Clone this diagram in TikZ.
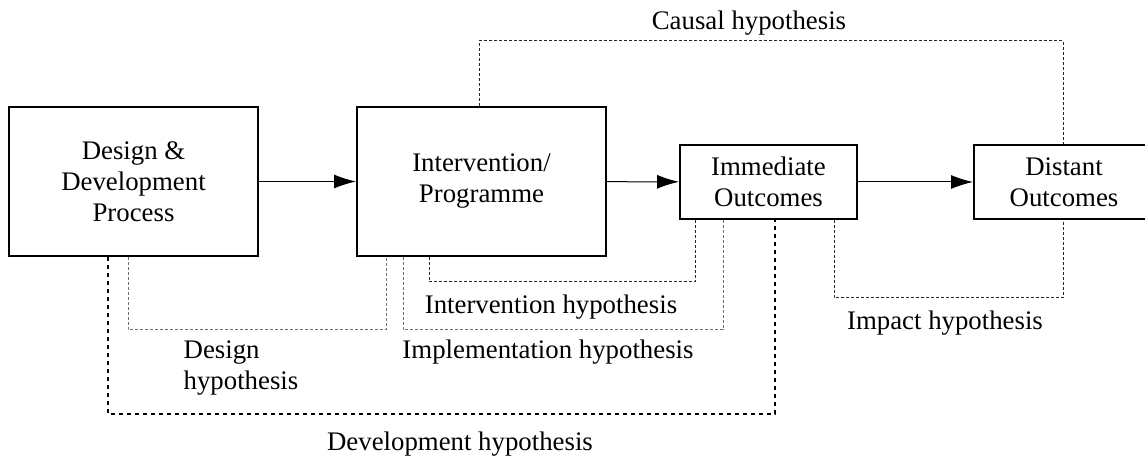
\documentclass[tikz,border=0pt]{standalone}
\usepackage{fontspec}
\setmainfont{Liberation Serif}
\usepackage{tikz}
\usetikzlibrary{arrows.meta,positioning,calc}
\definecolor{hypdark}{RGB}{40,40,40}
\definecolor{hypgrey}{RGB}{110,110,110}
\tikzset{
  stage box/.style={
    draw=black,
    line width=1pt,
    inner sep=2pt,
    align=center,
  },
  flow arrow/.style={
    -{Latex[length=11pt,width=7pt]},
    line width=0.5pt,
    draw=black,
  },
  hyp line/.style={
    draw=hypdark,
    line width=0.5pt,
    dash pattern=on 1.5pt off 1pt,
  },
  hyp line light/.style={
    hyp line,
    draw=hypgrey,
  },
  dev line/.style={
    draw=black,
    line width=1.3pt,
    dash pattern=on 1.8pt off 2.2pt,
  },
  hyp label/.style={
    inner sep=0pt,
    align=left,
  },
}

\begin{document}
\begin{tikzpicture}[x=0.5pt,y=-0.5pt,font=\fontsize{13.4}{15.5}\selectfont]
  \useasboundingbox (0,0) rectangle (1145,459);
  \node[stage box, minimum width=124.5pt, minimum height=74.5pt] (dd) at (133.5,181.5)
    {Design \&\\Development\\Process};
  \node[stage box, minimum width=124.5pt, minimum height=74.5pt] (ip) at (481.5,181.5)
    {Intervention/\\Programme};
  \node[stage box, minimum width=88.5pt, minimum height=37pt] (io) at (768.5,182)
    {Immediate\\Outcomes};
  \node[stage box, minimum width=90pt, minimum height=37pt] (do) at (1064,182)
    {Distant\\Outcomes};

  \draw[flow arrow] (dd) -- (ip);
  \draw[flow arrow] (ip) -- (io);
  \draw[flow arrow] (io) -- (do);

  \draw[hyp line] ($(ip.north)+(-2.5,0)$) -- ++(0,-65) -| ($(do.north)+(-1,0)$);
  \node[hyp label] (causal) at (749,23) {Causal hypothesis};

  \draw[hyp line light] ($(dd.south)+(-5.5,0)$) -- ++(0,73) -| ($(ip.south)+(-95.5,0)$);
  \node[hyp label] (design) at (241,368) {Design\\hypothesis};

  \draw[hyp line] ($(ip.south)+(-52.5,0)$) -- ++(0,25) -| ($(io.south)+(-73.5,0)$);
  \node[hyp label] (interv) at (551,307) {Intervention hypothesis};

  \draw[hyp line light] ($(ip.south)+(-78.5,0)$) -- ++(0,73) -| ($(io.south)+(-45.5,0)$);
  \node[hyp label] (implem) at (548,352) {Implementation hypothesis};

  \draw[dev line] ($(dd.south)+(-25.5,0)$) -- ++(0,157) -| ($(io.south)+(6.5,0)$);
  \node[hyp label] (devel) at (460,444) {Development hypothesis};

  \draw[hyp line] ($(io.south)+(65.5,0)$) -- ++(0,78) -| ($(do.south)+(-1,0)$);
  \node[hyp label] (impact) at (945,323) {Impact hypothesis};
\end{tikzpicture}
\end{document}
